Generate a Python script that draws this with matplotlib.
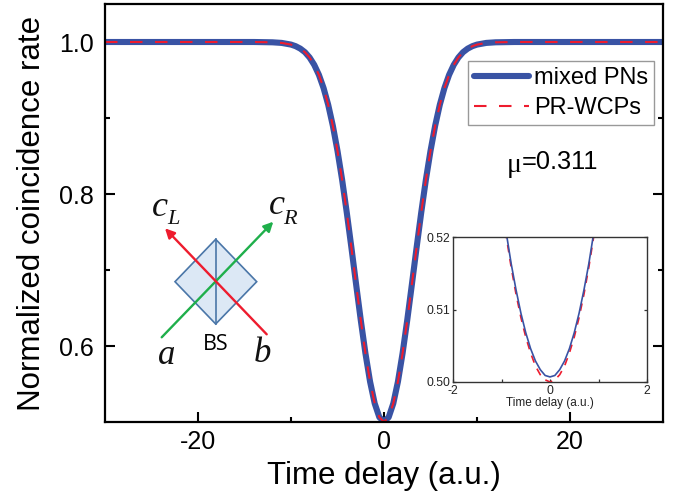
import matplotlib
matplotlib.use("Agg")
import matplotlib.pyplot as plt
from matplotlib.patches import Polygon

plt.rcParams['font.family'] = ['Liberation Sans', 'DejaVu Sans']
plt.rcParams['axes.unicode_minus'] = False

W, H = 681, 496
BLUE = "#3953A4"
RED = "#EE1C2E"
GREEN = "#1FAF4B"

# main curves
delay = [-30, -20, -14, -12, -11, -10, -9.5, -9, -8.5, -8, -7.5, -7, -6.5, -6, -5.5, -5, -4.5, -4,
         -3.5, -3, -2.5, -2, -1.5, -1, -0.5, 0, 0.5, 1, 1.5, 2, 2.5, 3, 3.5, 4, 4.5, 5, 5.5,
         6, 6.5, 7, 7.5, 8, 8.5, 9, 9.5, 10, 11, 12, 14, 20, 30]
half_rate = [1.0, 1.0, 1.0, 0.9996, 0.9988, 0.9966, 0.9945, 0.9913, 0.9866, 0.9796, 0.9699, 0.9568,
             0.9395, 0.9174, 0.8898, 0.8567, 0.8185, 0.7753, 0.7290, 0.6812, 0.6342, 0.5906,
             0.5532, 0.5244, 0.5062]
mixed_pns = half_rate + [0.5007] + half_rate[::-1]
pr_wcps = half_rate + [0.5000] + half_rate[::-1]

# inset curves
inset_delay = [-1.0, -0.9, -0.8, -0.7, -0.6, -0.5, -0.4, -0.3, -0.2, -0.1, 0,
               0.1, 0.2, 0.3, 0.4, 0.5, 0.6, 0.7, 0.8, 0.9, 1.0]
inset_mixed = [0.5251, 0.5205, 0.5163, 0.5127, 0.5095, 0.5068, 0.5046, 0.5029, 0.5017, 0.5009, 0.5007,
               0.5009, 0.5017, 0.5029, 0.5046, 0.5068, 0.5095, 0.5127, 0.5163, 0.5205, 0.5251]
inset_wcps = [0.5247, 0.5200, 0.5158, 0.5121, 0.5089, 0.5062, 0.5040, 0.5022, 0.5010, 0.5003, 0.5000,
              0.5003, 0.5010, 0.5022, 0.5040, 0.5062, 0.5089, 0.5121, 0.5158, 0.5200, 0.5247]


def box(left, top, right, bottom):
    return [left / W, 1 - bottom / H, (right - left) / W, (bottom - top) / H]


fig = plt.figure(figsize=(W / 100, H / 100), dpi=100)

# MAIN PLOT
ax = fig.add_axes(box(105, 4, 663, 422))
ax.plot(delay, mixed_pns, color=BLUE, lw=4.4, label="mixed PNs", solid_capstyle="round")
ax.plot(delay, pr_wcps, color=RED, lw=1.5, dashes=(6, 6), label="PR-WCPs")
ax.set_xlim(-30, 30)
ax.set_ylim(0.5, 1.05)
ax.set_xticks([-20, 0, 20])
ax.set_xticks([-10, 10], minor=True)
ax.set_yticks([0.6, 0.8, 1.0])
ax.set_yticks([0.7, 0.9], minor=True)
ax.tick_params(which="major", direction="in", length=7, width=1.5, labelsize=18, right=True)
ax.tick_params(axis="x", which="major", pad=5.5)
ax.tick_params(axis="y", which="major", pad=8)
ax.tick_params(which="minor", direction="in", length=3.5, width=1.5, right=True)
for s in ax.spines.values():
    s.set_linewidth(1.6)
ax.set_xlabel("Time delay (a.u.)", fontsize=22.5, labelpad=5.6)
ax.set_ylabel("Normalized coincidence rate", fontsize=22.5, labelpad=8.3)

leg = ax.legend(loc="upper left", bbox_to_anchor=((468 - 105) / 558, 1 - (61 - 4) / 418),
                borderaxespad=0, fontsize=17, frameon=True, fancybox=False, framealpha=1,
                edgecolor="#999999", handlelength=2.35, handletextpad=0.2, labelspacing=0.36,
                borderpad=0.25)
leg.get_frame().set_linewidth(1.0)

# INSET
axi = fig.add_axes(box(453, 237, 647, 382))
axi.plot(inset_delay, inset_wcps, color=RED, lw=1.2, dashes=(4.5, 4))
axi.plot(inset_delay, inset_mixed, color=BLUE, lw=1.2)
axi.set_xlim(-2, 2)
axi.set_ylim(0.50, 0.52)
axi.set_xticks([-2, 0, 2])
axi.set_xticks([-1, 1], minor=True)
axi.set_yticks([0.50, 0.51, 0.52])
axi.set_yticklabels(["0.50", "0.51", "0.52"])
axi.tick_params(which="both", direction="in", length=2, width=0.9, labelsize=8.7, pad=2,
                right=True, labelcolor="#222222", color="#333333")
for s in axi.spines.values():
    s.set_linewidth(1.0)
    s.set_edgecolor("#333333")
axi.set_xlabel("Time delay (a.u.)", fontsize=8.5, labelpad=0, color="#222222")

# BEAM SPLITTER SKETCH, overlay in pixel coordinates
ov = fig.add_axes([0, 0, 1, 1], facecolor="none")
ov.set_xlim(0, W)
ov.set_ylim(H, 0)
ov.axis("off")
ov.add_patch(Polygon([(215.7, 239.3), (256.7, 281.7), (215.7, 324), (175, 281.7)], closed=True,
                     facecolor="#DCE8F5", edgecolor="#4A76A8", lw=1.2))
ov.plot([215.7, 215.7], [239.3, 324], color="#4A76A8", lw=1.2)
ov.annotate("", xy=(273.3, 221.7), xytext=(161.7, 337.3),
            arrowprops=dict(arrowstyle="-|>", color=GREEN, lw=1.7, mutation_scale=14,
                            shrinkA=0, shrinkB=0))
ov.annotate("", xy=(165, 228.3), xytext=(266.7, 334.3),
            arrowprops=dict(arrowstyle="-|>", color=RED, lw=1.7, mutation_scale=14,
                            shrinkA=0, shrinkB=0))

serif = dict(family="Liberation Serif", style="italic", ha="center", va="center", color="#111111")
ov.text(160, 207, "c", fontsize=26, **serif)
ov.text(173, 220, "L", fontsize=16, **serif)
ov.text(277, 206, "c", fontsize=26, **serif)
ov.text(290, 220, "R", fontsize=16, **serif)
ov.text(167, 355, "a", fontsize=25, **serif)
ov.text(262, 353, "b", fontsize=25, **serif)
ov.text(216, 344, "BS", fontsize=15.5, family="Open Sans", ha="center", va="center")

ov.text(514, 165, "μ", fontsize=20, family="Liberation Serif", ha="center", va="center")
ov.text(521.5, 162, "=0.311", fontsize=18.3, ha="left", va="center")

fig.savefig("out.png", dpi=100)
